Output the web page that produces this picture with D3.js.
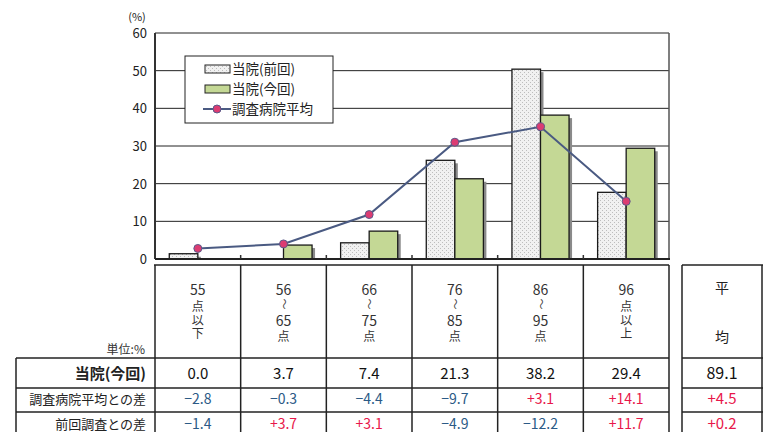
<!DOCTYPE html>
<html lang="ja">
<head>
<meta charset="utf-8">
<title>点数分布</title>
<script src="https://d3js.org/d3.v7.min.js" charset="utf-8"></script>
<style type="text/css">
    body { margin: 0; background: #fff; }
    svg { display: block; font-family: "Noto Sans CJK JP", "Noto Sans", sans-serif; }
</style>
</head>
<body>
<script type="text/javascript">
// --- data ---
var categories = ["55点以下", "56~65点", "66~75点", "76~85点", "86~95点", "96点以上"];
var headerLines = [["55", "点", "以", "下"], ["56", "~", "65", "点"], ["66", "~", "75", "点"],
                   ["76", "~", "85", "点"], ["86", "~", "95", "点"], ["96", "点", "以", "上"]];
var prevValues = [1.4, 0.0, 4.3, 26.2, 50.4, 17.7];
var currValues = [0.0, 3.7, 7.4, 21.3, 38.2, 29.4];
var avgValues = [2.8, 4.0, 11.8, 31.0, 35.1, 15.3];
var diffAvg = [-2.8, -0.3, -4.4, -9.7, 3.1, 14.1];
var diffPrev = [-1.4, 3.7, 3.1, -4.9, -12.2, 11.7];
var meanCurr = 89.1, meanDiffAvg = 4.5, meanDiffPrev = 0.2;
var yTicks = [0, 10, 20, 30, 40, 50, 60];
var legendLabels = ["当院(前回)", "当院(今回)", "調査病院平均"];
var rowLabels = ["当院(今回)", "調査病院平均との差", "前回調査との差"];

(function () {
var W = 763, H = 432;
var pL = 155, pR = 669, pT = 33, pB = 259;

var svg = d3.select('body').append('svg').attr('width', W).attr('height', H);

var defs = svg.append('defs');
var pat = defs.append('pattern').attr('id', 'dots').attr('patternUnits', 'userSpaceOnUse')
    .attr('width', 4).attr('height', 4);
pat.append('rect').attr('width', 4).attr('height', 4).attr('fill', '#f1f1f1');
pat.append('rect').attr('x', 0).attr('y', 0).attr('width', 1).attr('height', 1).attr('fill', '#bdbdbd');
pat.append('rect').attr('x', 2).attr('y', 2).attr('width', 1).attr('height', 1).attr('fill', '#bdbdbd');

var x = d3.scaleBand().domain(categories).range([pL, pR]).paddingInner(0).paddingOuter(0);
var bw = x.bandwidth();
var xs = d3.scaleBand().domain(['prev', 'curr']).range([bw / 6, bw * 5 / 6]);
var y = d3.scaleLinear().domain([0, 60]).range([pB, pT]);

// gridlines
svg.append('g').selectAll('line').data(yTicks.slice(1)).enter().append('line')
    .attr('x1', pL).attr('x2', pR)
    .attr('y1', function (d) { return y(d); }).attr('y2', function (d) { return y(d); })
    .style('stroke', '#222').style('stroke-width', 1);
svg.append('line').attr('x1', pR).attr('x2', pR).attr('y1', pT).attr('y2', pB)
    .style('stroke', '#555').style('stroke-width', 1.5);

// y labels
svg.append('g').selectAll('text').data(yTicks).enter().append('text')
    .attr('x', 147).attr('y', function (d) { return y(d) + 5; })
    .attr('text-anchor', 'end').style('font-size', '13px').style('fill', '#222')
    .text(function (d) { return d; });
svg.append('text').attr('x', 137).attr('y', 21).attr('text-anchor', 'middle')
    .style('font-size', '11px').style('fill', '#222').text('(%)');

// legend box (drawn under the bars, over gridlines)
var lg = svg.append('g');
lg.append('rect').attr('x', 185).attr('y', 56).attr('width', 148).attr('height', 67)
    .style('fill', '#fff').style('stroke', '#222').style('stroke-width', 1);

// bars
var bars = [];
categories.forEach(function (c, i) {
    bars.push({ c: c, k: 'prev', v: prevValues[i] });
    bars.push({ c: c, k: 'curr', v: currValues[i] });
});
var shown = bars.filter(function (d) { return d.v > 0; });
var bg = svg.append('g');
bg.selectAll('rect.shadow').data(shown).enter().append('rect')
    .attr('class', 'shadow')
    .attr('x', function (d) { return x(d.c) + xs(d.k) + 3; })
    .attr('y', function (d) { return y(d.v) + 3; })
    .attr('width', xs.bandwidth())
    .attr('height', function (d) { return Math.max(0, pB - y(d.v) - 3); })
    .style('fill', '#8a8a8a');
bg.selectAll('rect.bar').data(shown).enter().append('rect')
    .attr('class', 'bar')
    .attr('x', function (d) { return x(d.c) + xs(d.k); })
    .attr('y', function (d) { return y(d.v); })
    .attr('width', xs.bandwidth())
    .attr('height', function (d) { return pB - y(d.v); })
    .style('fill', function (d) { return d.k === 'prev' ? 'url(#dots)' : '#c4d895'; })
    .style('stroke', '#1a1a1a').style('stroke-width', 1.3);

// axes
svg.append('line').attr('x1', pL).attr('x2', pL).attr('y1', pT).attr('y2', pB)
    .style('stroke', '#333').style('stroke-width', 2);
svg.append('line').attr('x1', pL).attr('x2', pR + 1).attr('y1', pB).attr('y2', pB)
    .style('stroke', '#222').style('stroke-width', 2);
svg.append('g').selectAll('line').data(categories.slice(1)).enter().append('line')
    .attr('x1', function (d) { return x(d); }).attr('x2', function (d) { return x(d); })
    .attr('y1', pB - 4).attr('y2', pB)
    .style('stroke', '#333').style('stroke-width', 1.5);

// average line
var cx = function (d, i) { return x(categories[i]) + bw / 2; };
svg.append('path').datum(avgValues)
    .attr('d', d3.line().x(cx).y(function (d) { return y(d); }))
    .style('fill', 'none').style('stroke', '#4a5a82').style('stroke-width', 2);
svg.append('g').selectAll('circle').data(avgValues).enter().append('circle')
    .attr('cx', cx).attr('cy', function (d) { return y(d); }).attr('r', 4)
    .style('fill', '#dc3c72').style('stroke', '#5a5a8a').style('stroke-width', 1);

// legend items
var ly = [69, 89, 109];
lg.append('rect').attr('x', 205).attr('y', ly[0] - 4).attr('width', 25).attr('height', 8)
    .style('fill', 'url(#dots)').style('stroke', '#222').style('stroke-width', 1);
lg.append('rect').attr('x', 205).attr('y', ly[1] - 4).attr('width', 25).attr('height', 8)
    .style('fill', '#c4d895').style('stroke', '#222').style('stroke-width', 1);
lg.append('line').attr('x1', 203).attr('x2', 231).attr('y1', ly[2]).attr('y2', ly[2])
    .style('stroke', '#4a5a82').style('stroke-width', 2);
lg.append('circle').attr('cx', 217).attr('cy', ly[2]).attr('r', 4)
    .style('fill', '#dc3c72').style('stroke', '#5a5a8a').style('stroke-width', 1);
lg.selectAll('text').data(legendLabels).enter().append('text')
    .attr('x', 232).attr('y', function (d, i) { return ly[i] + 5; })
    .style('font-size', '13.5px').style('fill', '#222')
    .text(function (d) { return d; });

// --- table ---
var tb = svg.append('g');
var lineStyle = function (s) { return s.style('stroke', '#222').style('stroke-width', 1.5); };
var tTop = 265, hBot = 358, r1 = 388, r2 = 412, tEnd = 440;
var colX = categories.map(function (c) { return x(c); }).concat([pR]);
var avgL = 682, avgR = 762;

lineStyle(tb.append('line').attr('x1', pL - 1).attr('x2', pR).attr('y1', tTop).attr('y2', tTop));
lineStyle(tb.append('line').attr('x1', avgL).attr('x2', avgR + 2).attr('y1', tTop).attr('y2', tTop));
[hBot, r1, r2].forEach(function (yy) {
    lineStyle(tb.append('line').attr('x1', 16).attr('x2', pR).attr('y1', yy).attr('y2', yy));
    lineStyle(tb.append('line').attr('x1', avgL).attr('x2', avgR + 2).attr('y1', yy).attr('y2', yy));
});
colX.forEach(function (xx) {
    lineStyle(tb.append('line').attr('x1', xx).attr('x2', xx).attr('y1', tTop).attr('y2', tEnd));
});
lineStyle(tb.append('line').attr('x1', 16).attr('x2', 16).attr('y1', hBot).attr('y2', tEnd));
lineStyle(tb.append('line').attr('x1', avgL).attr('x2', avgL).attr('y1', tTop).attr('y2', tEnd));
lineStyle(tb.append('line').attr('x1', avgR).attr('x2', avgR).attr('y1', tTop).attr('y2', tEnd));

// header labels (vertical stacks); line centres differ for range vs. "以下/以上" columns
var rangeY = [290, 304, 321, 337];
var edgeY = [290, 307, 321, 334];
categories.forEach(function (c, i) {
    var g = tb.append('g');
    var mx = x(c) + bw / 2;
    var ys = headerLines[i][1] === '~' ? rangeY : edgeY;
    headerLines[i].forEach(function (t, j) {
        var ty = ys[j];
        if (t === '~') {
            g.append('text').attr('transform', 'translate(' + mx + ',' + ty + ') rotate(90)')
                .attr('text-anchor', 'middle').attr('dy', '0.35em')
                .style('font-size', '11px').style('fill', '#444').text('〜');
        } else {
            var isNum = /\d/.test(t);
            g.append('text').attr('x', mx).attr('y', ty).attr('dy', '0.36em').attr('text-anchor', 'middle')
                .style('font-size', isNum ? '14px' : '12px').style('fill', '#333').text(t);
        }
    });
});
tb.append('text').attr('x', (avgL + avgR) / 2).attr('y', 293).attr('text-anchor', 'middle')
    .style('font-size', '14px').style('fill', '#222').text('平');
tb.append('text').attr('x', (avgL + avgR) / 2).attr('y', 342).attr('text-anchor', 'middle')
    .style('font-size', '14px').style('fill', '#222').text('均');
tb.append('text').attr('x', 145).attr('y', 354).attr('text-anchor', 'end')
    .style('font-size', '12px').style('fill', '#333').text('単位:%');

// row labels
var rowY = [379, 404, 429];
rowLabels.forEach(function (t, i) {
    tb.append('text').attr('x', 146).attr('y', rowY[i]).attr('text-anchor', 'end')
        .style('font-size', i === 0 ? '15px' : '13px').style('font-weight', i === 0 ? 'bold' : 'normal')
        .style('fill', '#222').text(t);
});

var fmt = d3.format('.1f');
var signed = function (v) { return (v > 0 ? '+' : v < 0 ? '−' : '') + fmt(Math.abs(v)); };
var col = function (v) { return v < 0 ? '#2b5a86' : '#e8174a'; };
var midX = function (d, i) { return x(categories[i]) + bw / 2; };

tb.selectAll('text.r1').data(currValues).enter().append('text').attr('class', 'r1')
    .attr('x', midX).attr('y', rowY[0])
    .attr('text-anchor', 'middle').style('font-size', '15px').style('fill', '#111')
    .text(function (d) { return fmt(d); });
tb.selectAll('text.r2').data(diffAvg).enter().append('text').attr('class', 'r2')
    .attr('x', midX).attr('y', rowY[1])
    .attr('text-anchor', 'middle').style('font-size', '14px').style('fill', col)
    .text(signed);
tb.selectAll('text.r3').data(diffPrev).enter().append('text').attr('class', 'r3')
    .attr('x', midX).attr('y', rowY[2])
    .attr('text-anchor', 'middle').style('font-size', '14px').style('fill', col)
    .text(signed);

var am = (avgL + avgR) / 2;
tb.append('text').attr('x', am).attr('y', rowY[0]).attr('text-anchor', 'middle')
    .style('font-size', '16px').style('fill', '#111').text(fmt(meanCurr));
tb.append('text').attr('x', am).attr('y', rowY[1]).attr('text-anchor', 'middle')
    .style('font-size', '15px').style('fill', col(meanDiffAvg)).text(signed(meanDiffAvg));
tb.append('text').attr('x', am).attr('y', rowY[2]).attr('text-anchor', 'middle')
    .style('font-size', '15px').style('fill', col(meanDiffPrev)).text(signed(meanDiffPrev));
})();
</script>
</body>
</html>
